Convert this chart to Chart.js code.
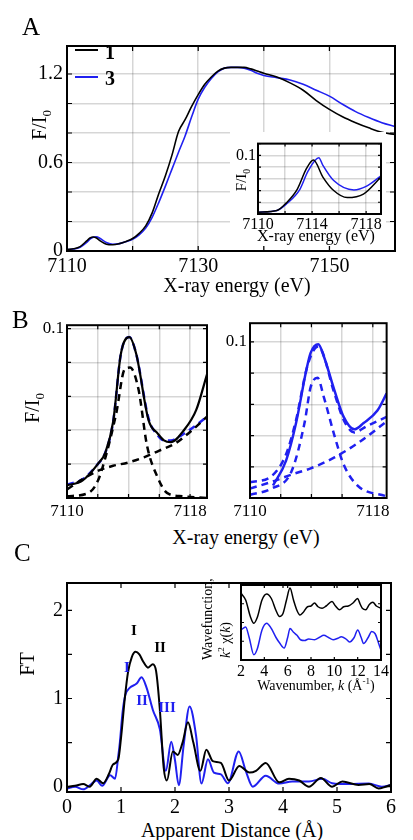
<!DOCTYPE html>
<html>
<head>
<meta charset="utf-8">
<script src="https://cdn.jsdelivr.net/npm/chart.js@4.4.0/dist/chart.umd.min.js"></script>
<style>
    body { margin: 0; background: #fff; }
    #fig { position: relative; width: 413px; height: 840px; font-family: 'Liberation Serif', 'Times New Roman', serif; color: #000; }
    #fig canvas { position: absolute; }
    .t { position: absolute; white-space: nowrap; line-height: 1; }
    .c { transform: translate(-50%, -50%); }
    .r { transform: translate(-50%, -50%) rotate(-90deg); }
    .v { transform-origin: 0 0; transform: rotate(-90deg); }
    sub, sup { font-size: 0.65em; line-height: 0; }
    .lg { position: absolute; height: 2px; width: 23px; }
</style>
</head>
<body>
<div id="fig">
    <canvas id="edgeChart" width="405" height="251" style="left:0;top:30px"></canvas>
    <canvas id="preEdgeChart" width="156" height="114" style="left:230px;top:132px;background:#fff"></canvas>
    <canvas id="fit1Chart" width="212" height="208" style="left:0;top:312px"></canvas>
    <canvas id="fit3Chart" width="178" height="210" style="left:215px;top:310px"></canvas>
    <canvas id="ftChart" width="400" height="247" style="left:0;top:567px"></canvas>
    <canvas id="exafsChart" width="156" height="99" style="left:235px;top:579px"></canvas>

    <div class="t" style="left:22px;top:14px;font-size:25px">A</div>
    <div class="t" style="left:12px;top:307px;font-size:25px">B</div>
    <div class="t" style="left:14px;top:540px;font-size:25px">C</div>

    <div class="lg" style="left:75px;top:49px;background:#000"></div>
    <div class="t c" style="left:110px;top:52px;font-size:20px;font-weight:bold">1</div>
    <div class="lg" style="left:75px;top:76px;background:#2020f0"></div>
    <div class="t c" style="left:110px;top:78px;font-size:20px;font-weight:bold">3</div>

    <div class="t r" style="left:39px;top:125px;font-size:20px">F/I<sub>0</sub></div>
    <div class="t c" style="left:237px;top:285px;font-size:20px">X-ray energy (eV)</div>
    <div class="t r" style="left:241px;top:180px;font-size:15px">F/I<sub>0</sub></div>
    <div class="t c" style="left:316px;top:236px;font-size:16px">X-ray energy (eV)</div>

    <div class="t r" style="left:32px;top:408px;font-size:20px">F/I<sub>0</sub></div>
    <div class="t c" style="left:246px;top:537px;font-size:20px">X-ray energy (eV)</div>

    <div class="t r" style="left:27px;top:664px;font-size:20px">FT</div>
    <div class="t c" style="left:232px;top:830px;font-size:20px">Apparent Distance (Å)</div>
    <div class="t v" style="left:201px;top:660px;font-size:14px">Wavefunction,</div>
    <div class="t v" style="left:219px;top:658px;font-size:14px"><i>k</i><sup>2</sup> χ(<i>k</i>)</div>
    <div class="t c" style="left:316px;top:686px;font-size:14px">Wavenumber, <i>k</i> (Å<sup>-1</sup>)</div>

    <div class="t c" style="left:134px;top:630px;font-size:15px;font-weight:bold">I</div>
    <div class="t c" style="left:160px;top:647px;font-size:15px;font-weight:bold">II</div>
    <div class="t c" style="left:127px;top:667px;font-size:15px;font-weight:bold;color:#2020f0">I</div>
    <div class="t c" style="left:142px;top:700px;font-size:15px;font-weight:bold;color:#2020f0">II</div>
    <div class="t c" style="left:167px;top:707px;font-size:15px;font-weight:bold;color:#2020f0">III</div>
</div>

<script>
// ---- Panel A: normalized XAS, complexes 1 and 3 ----
const edgeEnergy = [7110, 7111, 7112, 7113, 7113.5, 7114, 7114.5, 7115, 7116, 7117, 7118, 7119, 7120, 7121, 7122, 7123, 7124, 7125, 7126, 7127, 7128, 7129, 7130, 7131, 7132, 7133, 7134, 7135, 7136, 7137, 7138, 7139, 7140, 7142, 7144, 7146, 7148, 7150, 7152, 7154, 7156, 7158, 7160];
const edge1 = [0.01, 0.015, 0.03, 0.068, 0.088, 0.095, 0.088, 0.07, 0.046, 0.042, 0.05, 0.065, 0.085, 0.12, 0.17, 0.26, 0.39, 0.51, 0.65, 0.81, 0.89, 0.98, 1.06, 1.13, 1.18, 1.22, 1.24, 1.245, 1.245, 1.245, 1.235, 1.22, 1.205, 1.18, 1.14, 1.09, 1.02, 0.96, 0.91, 0.87, 0.835, 0.805, 0.79];
const edge3 = [0.01, 0.013, 0.025, 0.058, 0.08, 0.093, 0.097, 0.086, 0.058, 0.046, 0.05, 0.063, 0.08, 0.11, 0.155, 0.23, 0.33, 0.44, 0.555, 0.67, 0.78, 0.91, 1.03, 1.11, 1.17, 1.215, 1.24, 1.245, 1.245, 1.24, 1.225, 1.205, 1.19, 1.175, 1.16, 1.13, 1.09, 1.05, 0.995, 0.945, 0.905, 0.87, 0.845];
const edgeXTicks = ['7110', '7130', '7150'];
const edgeYTicks = ['0', '0.6', '1.2'];

// inset: pre-edge region
const preEnergy1 = [7110, 7111.4, 7112.1, 7112.9, 7113.6, 7114.1, 7114.8, 7115.6, 7116.6, 7117.8, 7119.1];
const pre1 = [0.003, 0.006, 0.019, 0.042, 0.078, 0.092, 0.063, 0.040, 0.028, 0.034, 0.063];
const preEnergy3 = [7110, 7111.4, 7112.1, 7113.1, 7113.7, 7114.5, 7114.8, 7115.6, 7117.1, 7118, 7119.1];
const pre3 = [0.003, 0.006, 0.017, 0.042, 0.073, 0.096, 0.083, 0.057, 0.041, 0.047, 0.065];
const preXTicks = ['7110', '7114', '7118'];
const preYTicks = ['0.1'];

// ---- Panel B: pre-edge fits ----
const fit1Energy = [7110, 7111, 7112, 7112.5, 7113, 7113.5, 7114.05, 7114.5, 7115.3, 7115.9, 7116.3, 7116.75, 7117.6, 7118.4, 7119.1];
const fit1Data = [0.0074, 0.0103, 0.020, 0.027, 0.045, 0.085, 0.095, 0.085, 0.046, 0.038, 0.034, 0.033, 0.040, 0.052, 0.073];
const fit1Total = [0.008, 0.011, 0.020, 0.027, 0.045, 0.085, 0.095, 0.085, 0.047, 0.037, 0.034, 0.034, 0.038, 0.043, 0.048];
const fit1PeakEnergy = [7110, 7111.4, 7112, 7112.5, 7113.2, 7113.75, 7114.1, 7114.65, 7115.2, 7115.9, 7116.5, 7117.5, 7119.1];
const fit1Peak = [0.001, 0.003, 0.010, 0.024, 0.050, 0.076, 0.077, 0.064, 0.031, 0.012, 0.003, 0.001, 0.0];
const fit1BaseEnergy = [7110, 7111, 7112, 7113, 7114, 7115, 7116, 7117, 7118, 7119.1];
const fit1Base = [0.005, 0.011, 0.016, 0.019, 0.021, 0.024, 0.028, 0.032, 0.039, 0.048];

const fit3Energy = [7111.5, 7112.35, 7113, 7113.65, 7113.95, 7114.45, 7114.8, 7115.5, 7116.1, 7116.8, 7117.4, 7118.3, 7118.9];
const fit3Data = [0.008, 0.024, 0.048, 0.081, 0.093, 0.0985, 0.091, 0.069, 0.052, 0.044, 0.048, 0.056, 0.067];
const fit3TotalEnergy = [7110, 7111.4, 7112.35, 7113, 7113.75, 7114.45, 7115.5, 7116.1, 7116.8, 7117.6, 7118.9];
const fit3Total = [0.010, 0.014, 0.028, 0.050, 0.085, 0.097, 0.067, 0.050, 0.042, 0.046, 0.052];
const fit3PeakEnergy = [7110, 7111.4, 7112.7, 7113.55, 7113.95, 7114.4, 7114.8, 7115.5, 7116.1, 7117, 7118.9];
const fit3Peak = [0.002, 0.006, 0.017, 0.048, 0.071, 0.077, 0.065, 0.040, 0.0215, 0.008, 0.001];
const fit3BaseEnergy = [7110, 7111.6, 7112.7, 7113.95, 7115.5, 7117, 7118.9];
const fit3Base = [0.006, 0.011, 0.015, 0.019, 0.026, 0.035, 0.049];
const fitXTicks = ['7110', '7118'];
const fitYTicks = ['0.1'];

// ---- Panel C: Fourier transforms and EXAFS ----
const ftR1 = [0, 0.15, 0.3, 0.42, 0.55, 0.67, 0.78, 0.85, 0.95, 1.0, 1.07, 1.13, 1.2, 1.27, 1.34, 1.41, 1.5, 1.59, 1.65, 1.72, 1.79, 1.85, 1.96, 2.05, 2.14, 2.24, 2.34, 2.47, 2.58, 2.7, 2.85, 3.0, 3.19, 3.38, 3.5, 3.68, 3.93, 4.11, 4.3, 4.48, 4.7, 4.91, 5.1, 5.4, 5.6, 5.77, 5.9, 6.0];
const ft1 = [0.0, 0.01, 0.03, 0.0, 0.09, 0.04, 0.15, 0.25, 0.31, 0.55, 1.0, 1.3, 1.47, 1.53, 1.5, 1.42, 1.35, 1.39, 1.31, 0.87, 0.22, 0.07, 0.40, 0.36, 0.5, 0.73, 0.5, 0.18, 0.42, 0.29, 0.27, 0.07, 0.235, 0.16, 0.18, 0.27, 0.05, 0.09, 0.07, 0.0, 0.1, 0.0, 0.06, 0.02, 0.03, -0.02, 0.0, 0.02];
const ftR3 = [0, 0.15, 0.3, 0.45, 0.55, 0.65, 0.8, 0.89, 0.95, 0.98, 1.03, 1.08, 1.16, 1.29, 1.38, 1.47, 1.59, 1.72, 1.83, 1.93, 2.0, 2.07, 2.16, 2.27, 2.39, 2.49, 2.61, 2.72, 2.85, 2.98, 3.18, 3.31, 3.44, 3.68, 3.93, 4.17, 4.48, 4.73, 4.91, 5.22, 5.59, 5.83, 6.0];
const ft3 = [-0.02, 0.0, -0.03, 0.03, 0.07, 0.01, 0.13, 0.09, 0.35, 0.51, 0.85, 1.04, 1.12, 1.17, 1.24, 1.13, 0.87, 0.65, 0.18, 0.51, 0.3, 0.016, 0.47, 0.91, 0.58, 0.035, 0.31, 0.16, 0.14, 0.04, 0.40, 0.18, 0.0, 0.125, 0.035, 0.06, 0.06, 0.09, 0.04, 0.03, 0.035, 0.0, 0.02];
const ftXTicks = ['0', '1', '2', '3', '4', '5', '6'];
const ftYTicks = ['0', '1', '2'];

const k1 = [2.0, 2.4, 2.8, 3.1, 3.4, 3.8, 4.2, 4.6, 5.0, 5.3, 5.6, 5.9, 6.2, 6.5, 6.8, 7.05, 7.3, 7.7, 8.0, 8.3, 8.6, 8.95, 9.3, 9.8, 10.1, 10.45, 10.8, 11.2, 11.6, 12.0, 12.2, 12.4, 12.7, 13.0, 13.3, 13.6, 14.0];
const chi1 = [0.89, 0.8, 0.58, 0.49, 0.57, 0.8, 0.88, 0.82, 0.66, 0.58, 0.62, 0.8, 0.96, 0.8, 0.66, 0.6, 0.63, 0.71, 0.72, 0.76, 0.71, 0.69, 0.72, 0.78, 0.72, 0.67, 0.71, 0.72, 0.76, 0.82, 0.75, 0.69, 0.67, 0.74, 0.77, 0.72, 0.69];
const k3 = [2.0, 2.4, 2.7, 3.1, 3.4, 3.8, 4.2, 4.6, 5.0, 5.3, 5.7, 6.0, 6.2, 6.5, 6.8, 7.1, 7.45, 7.8, 8.3, 8.7, 9.1, 9.5, 9.9, 10.3, 10.6, 11.0, 11.3, 11.7, 12.0, 12.3, 12.5, 12.9, 13.2, 13.5, 13.8, 14.0];
const chi3 = [0.40, 0.44, 0.3, 0.07, 0.15, 0.4, 0.49, 0.42, 0.3, 0.23, 0.16, 0.3, 0.42, 0.37, 0.33, 0.27, 0.26, 0.28, 0.27, 0.3, 0.33, 0.3, 0.27, 0.29, 0.31, 0.28, 0.24, 0.3, 0.40, 0.3, 0.22, 0.3, 0.38, 0.35, 0.22, 0.13];
const kXTicks = ['2', '4', '6', '8', '10', '12', '14'];

const BLACK = '#000';
const BLUE = '#2020f0';

Chart.defaults.font.family = "'Liberation Serif', 'Times New Roman', serif";
Chart.defaults.color = '#000';

// box around the plot area + inward tick marks on all four sides
const framePlugin = {
    id: 'frame',
    afterDatasetsDraw(chart) {
        const { ctx, chartArea: a, scales } = chart;
        const len = chart.options.plugins.frame.tickLen;
        ctx.save();
        ctx.strokeStyle = '#000';
        ctx.lineWidth = 1.2;
        ctx.beginPath();
        scales.x.ticks.forEach(t => {
            const px = scales.x.getPixelForValue(t.value);
            ctx.moveTo(px, a.bottom); ctx.lineTo(px, a.bottom - len);
            ctx.moveTo(px, a.top); ctx.lineTo(px, a.top + len);
        });
        scales.y.ticks.forEach(t => {
            const py = scales.y.getPixelForValue(t.value);
            ctx.moveTo(a.left, py); ctx.lineTo(a.left + len, py);
            ctx.moveTo(a.right, py); ctx.lineTo(a.right - len, py);
        });
        ctx.stroke();
        ctx.lineWidth = 2;
        ctx.strokeRect(a.left, a.top, a.right - a.left, a.bottom - a.top);
        ctx.restore();
    }
};

function buildAxis(min, max, step, labels, size, fontSize, showGrid, pad) {
    const shown = labels.map(Number);
    return {
        type: 'linear',
        min,
        max,
        afterBuildTicks: scale => {
            const ticks = [];
            for (let i = Math.ceil(min / step - 1e-9); i * step <= max + 1e-9; i++) {
                ticks.push({ value: +(i * step).toFixed(6) });
            }
            scale.ticks = ticks;
        },
        afterFit: scale => {
            if (scale.isHorizontal()) scale.height = size;
            else scale.width = size;
        },
        ticks: {
            autoSkip: false,
            maxRotation: 0,
            padding: pad,
            color: '#000',
            font: { size: fontSize },
            callback: v => {
                const i = shown.findIndex(s => Math.abs(s - v) < 1e-6);
                return i >= 0 ? labels[i] : '';
            }
        },
        grid: { display: showGrid, color: 'rgba(0,0,0,0.16)', lineWidth: 1.5, drawTicks: false },
        border: { display: false }
    };
}

function series(xs, ys, color, width, dash) {
    return {
        data: xs.map((x, i) => ({ x, y: ys[i] })),
        borderColor: color,
        borderWidth: width,
        borderDash: dash || [],
        pointRadius: 0,
        fill: false,
        cubicInterpolationMode: 'monotone'
    };
}

function makeChart(id, datasets, xAxis, yAxis, padding, tickLen) {
    return new Chart(document.getElementById(id), {
        type: 'line',
        data: { datasets },
        options: {
            responsive: false,
            animation: false,
            devicePixelRatio: 1,
            layout: { padding },
            scales: { x: xAxis, y: yAxis },
            plugins: { legend: { display: false }, tooltip: { enabled: false }, frame: { tickLen } }
        },
        plugins: [framePlugin]
    });
}

function drawFigure() {
    const dash = [7, 5];

    // A main
    makeChart('edgeChart',
        [series(edgeEnergy, edge1, BLACK, 1.6), series(edgeEnergy, edge3, BLUE, 1.6)],
        buildAxis(7110, 7160, 10, edgeXTicks, 30, 20, true, 4),
        buildAxis(0, 1.39, 0.2, edgeYTicks, 67, 20, true, 4),
        { left: 0, top: 10, right: 10, bottom: 0 }, 5);

    // A inset
    makeChart('preEdgeChart',
        [series(preEnergy1, pre1, BLACK, 1.5), series(preEnergy3, pre3, BLUE, 1.5)],
        buildAxis(7110, 7119.1, 2, preXTicks, 32, 16, true, 1),
        buildAxis(0, 0.12, 0.02, preYTicks, 28, 16, true, 2),
        { left: 0, top: 4, right: 5, bottom: 0 }, 3);

    // B left, complex 1
    makeChart('fit1Chart',
        [
            series(fit1BaseEnergy, fit1Base, BLACK, 2.5, dash),
            series(fit1PeakEnergy, fit1Peak, BLACK, 2.5, dash),
            series(fit1Energy, fit1Data, BLACK, 2.2),
            series(fit1Energy, fit1Total, BLUE, 2.5, dash)
        ],
        buildAxis(7110, 7119.1, 2, fitXTicks, 22, 17, true, 3),
        buildAxis(0, 0.102, 0.02, fitYTicks, 67, 17, true, 3),
        { left: 0, top: 8, right: 5, bottom: 0 }, 4);

    // B right, complex 3
    makeChart('fit3Chart',
        [
            series(fit3BaseEnergy, fit3Base, BLUE, 2.5, dash),
            series(fit3PeakEnergy, fit3Peak, BLUE, 2.5, dash),
            series(fit3TotalEnergy, fit3Total, BLUE, 2.5, dash),
            series(fit3Energy, fit3Data, BLUE, 2.5)
        ],
        buildAxis(7110, 7118.9, 2, fitXTicks, 22, 17, true, 3),
        buildAxis(0, 0.112, 0.02, fitYTicks, 35, 17, true, 3),
        { left: 0, top: 8, right: 5, bottom: 0 }, 4);

    // C main
    makeChart('ftChart',
        [series(ftR1, ft1, BLACK, 2), series(ftR3, ft3, BLUE, 2)],
        buildAxis(0, 6, 1, ftXTicks, 22, 20, false, 4),
        buildAxis(-0.06, 2.31, 0.5, ftYTicks, 67, 20, false, 4),
        { left: 0, top: 8, right: 8, bottom: 0 }, 5);

    // C inset
    makeChart('exafsChart',
        [series(k1, chi1, BLACK, 1.5), series(k3, chi3, BLUE, 1.5)],
        buildAxis(2, 14, 2, kXTicks, 18, 16, false, 2),
        buildAxis(0, 1, 0.25, [], 5, 10, false, 0),
        { left: 0, top: 6, right: 4, bottom: 0 }, 3);
}

drawFigure();
</script>
</body>
</html>
